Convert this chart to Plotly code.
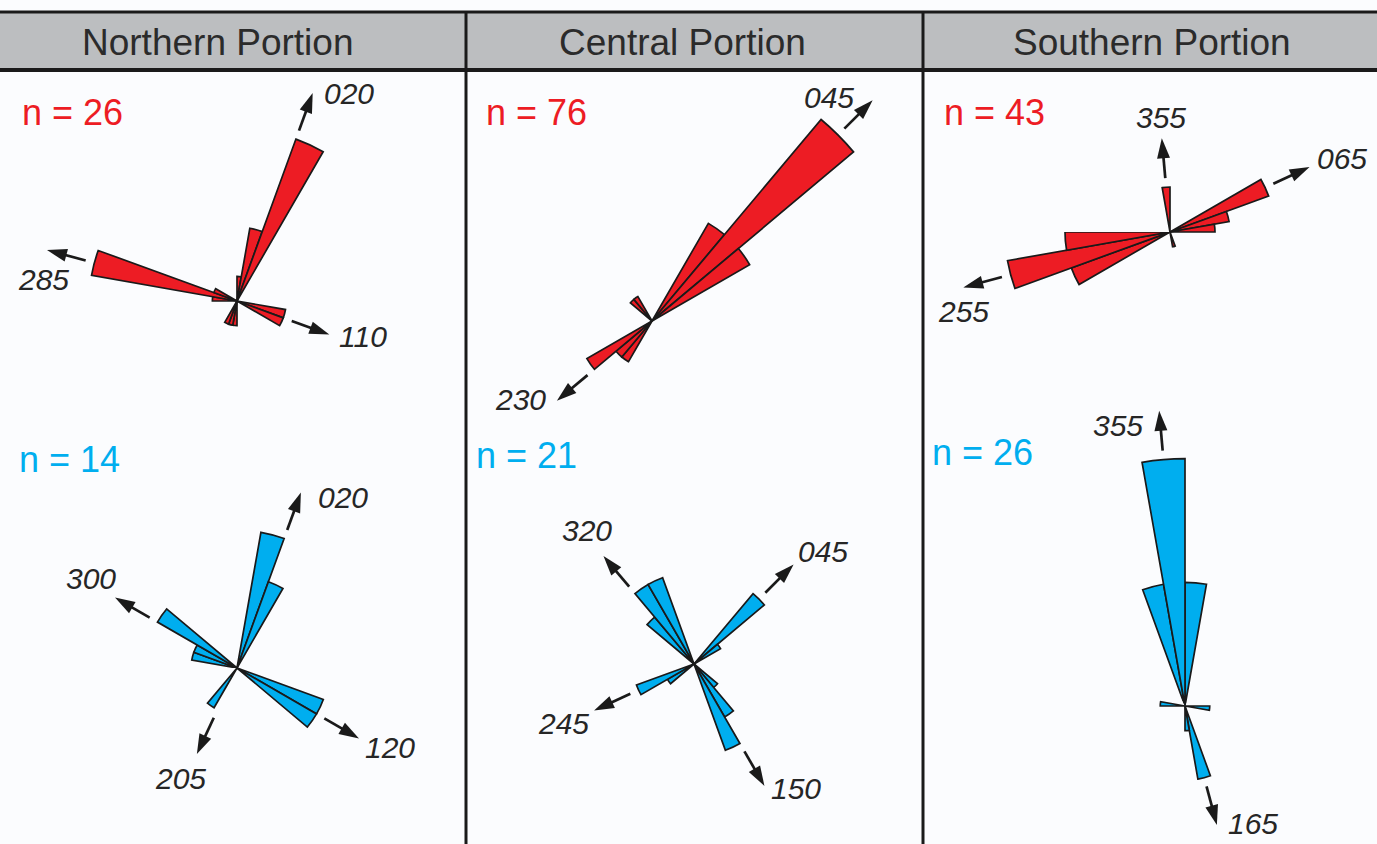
import math
import plotly.graph_objects as go

W, H = 1377, 844

# ---------------- data: counts per 10-degree azimuth bin (bin start) ----------------
north_red_bins = [0, 10, 20, 100, 110, 180, 190, 200, 270, 280, 290]
north_red_counts = [1, 3, 7, 2, 2, 1, 1, 1, 1, 6, 1]
north_red_dirs = [20, 285, 110]

central_red_bins = [30, 40, 50, 210, 220, 230, 310, 320]
central_red_counts = [12, 28, 12, 5, 5, 8, 3, 3]
central_red_dirs = [45, 230]

south_red_bins = [60, 70, 80, 160, 240, 250, 260, 350]
south_red_counts = [7, 4, 3, 1, 7, 11, 7, 3]
south_red_dirs = [355, 65, 255]

north_blue_bins = [10, 20, 110, 120, 210, 280, 290, 300]
north_blue_counts = [3, 2, 2, 2, 1, 1, 1, 2]
north_blue_dirs = [20, 300, 120, 205]

central_blue_bins = [40, 50, 130, 140, 150, 230, 240, 310, 320, 330]
central_blue_counts = [3, 1, 1, 2, 3, 1, 2, 2, 3, 3]
central_blue_dirs = [320, 45, 245, 150]

south_blue_bins = [0, 90, 160, 170, 270, 340, 350]
south_blue_counts = [5, 1, 3, 1, 1, 5, 10]
south_blue_dirs = [355, 165]

column_titles = ["Northern Portion", "Central Portion", "Southern Portion"]

# ---------------- styling ----------------
RED = "#ed1c24"
BLUE = "#00aeef"
INK = "#1a1a1a"
BIN_WIDTH = 10
GAP_PX = 9        # space between petal tip and arrow start
ARROW_PX = 40     # arrow length
HEAD_SIZE = 21
FONT = "Liberation Sans, Arial, sans-serif"

# each rose is drawn in one or more polar subplots sharing the same pole;
# "subs" lists (sector, radius px); items go to the first sub whose sector holds them
panels = [
    dict(bins=north_red_bins, counts=north_red_counts, dirs=north_red_dirs, color=RED,
         pole=(237, 301), scale=6.40, npos=(20, 113),
         subs=[(None, 228)],
         offsets=[(36, 0), (-4, 29), (34, 2)]),
    dict(bins=central_red_bins, counts=central_red_counts, dirs=central_red_dirs, color=RED,
         pole=(652, 321), scale=7.14, npos=(484, 113),
         subs=[(None, 318)],
         offsets=[(-44, -3), (-36, -1)]),
    dict(bins=south_red_bins, counts=south_red_counts, dirs=south_red_dirs, color=RED,
         pole=(1170, 232), scale=6.45, npos=(942, 113),
         subs=[([180, 270], 225), (None, 200)],
         offsets=[(-1, -21), (32, -8), (0, 24)]),
    dict(bins=north_blue_bins, counts=north_blue_counts, dirs=north_blue_dirs, color=BLUE,
         pole=(237, 668), scale=6.43, npos=(17, 460),
         subs=[([0, 180], 200), (None, 160)],
         offsets=[(42, 5), (-24, -19), (31, 9), (-16, 24)]),
    dict(bins=central_blue_bins, counts=central_blue_counts, dirs=central_blue_dirs, color=BLUE,
         pole=(694, 664), scale=6.43, npos=(474, 455),
         subs=[(None, 152)],
         offsets=[(-16, -26), (29, -13), (-31, 13), (32, 3)]),
    dict(bins=south_blue_bins, counts=south_blue_counts, dirs=south_blue_dirs, color=BLUE,
         pole=(1185, 706), scale=6.43, npos=(930, 452),
         subs=[([60, 120], 305), (None, 132)],
         offsets=[(-41, 15), (36, -1)]),
]


def ang_diff(a, b):
    return abs((a - b + 180) % 360 - 180)


def g_angle(bearing):
    return (90 - bearing) % 360


def in_sector(bearing, sector):
    if sector is None:
        return True
    return sector[0] <= g_angle(bearing) <= sector[1]


def sector_bbox(sector):
    a0, a1 = sector
    angles = [a0, a1] + [c for c in (0, 90, 180, 270, 360) if a0 <= c <= a1]
    xs = [0.0] + [math.cos(math.radians(a)) for a in angles]
    ys = [0.0] + [math.sin(math.radians(a)) for a in angles]
    return min(xs), min(ys), max(xs), max(ys)


fig = go.Figure()
polar_layouts = {}
annotations = []
counter = [0]


def new_polar(pole, R, rmax, sector=None):
    counter[0] += 1
    name = "polar" if counter[0] == 1 else f"polar{counter[0]}"
    cx, cy = pole
    if sector is None:
        bx0, by0, bx1, by1 = -1, -1, 1, 1
    else:
        bx0, by0, bx1, by1 = sector_bbox(sector)
    x0, x1 = cx + R * bx0, cx + R * bx1
    top, bottom = cy - R * by1, cy - R * by0
    cfg = dict(
        domain=dict(x=[max(0, x0 / W), min(1, x1 / W)],
                    y=[max(0, 1 - bottom / H), min(1, 1 - top / H)]),
        bgcolor="rgba(0,0,0,0)",
        radialaxis=dict(visible=False, range=[0, rmax], showgrid=False, showline=False,
                        showticklabels=False, ticks=""),
        angularaxis=dict(visible=False, rotation=90, direction="clockwise",
                         showgrid=False, showline=False, showticklabels=False, ticks=""),
    )
    if sector is not None:
        cfg["sector"] = sector
    polar_layouts[name] = cfg
    return name


def pick(bearing, subs):
    for i, (sector, _) in enumerate(subs):
        if in_sector(bearing, sector):
            return i
    return len(subs) - 1


for p in panels:
    n = sum(p["counts"])
    pct = [100.0 * c / n for c in p["counts"]]
    centers = [b + BIN_WIDTH / 2 for b in p["bins"]]
    scale = p["scale"]
    subs = p["subs"]
    names = [new_polar(p["pole"], R, R / scale, sector) for sector, R in subs]

    for i, sp in enumerate(names):
        th = [c for c in centers if pick(c, subs) == i]
        rr = [v for c, v in zip(centers, pct) if pick(c, subs) == i]
        if th:
            fig.add_trace(go.Barpolar(
                r=rr, theta=th, width=[BIN_WIDTH] * len(th), subplot=sp,
                marker=dict(color=p["color"], line=dict(color=INK, width=1.7)),
                hoverinfo="skip", showlegend=False,
            ))

        shaft_r, shaft_t, head_r, head_t = [], [], [], []
        for d in p["dirs"]:
            if pick(d, subs) != i:
                continue
            near = max(v for c, v in zip(centers, pct) if ang_diff(c, d) <= 15)
            start = near + GAP_PX / scale
            tip = start + ARROW_PX / scale
            shaft_r += [start, tip - 12 / scale, None]
            shaft_t += [d, d, None]
            head_r.append(tip)
            head_t.append(d)
        if head_r:
            fig.add_trace(go.Scatterpolar(
                r=shaft_r, theta=shaft_t, subplot=sp, mode="lines", cliponaxis=False,
                line=dict(color=INK, width=2.7), hoverinfo="skip", showlegend=False,
            ))
            fig.add_trace(go.Scatterpolar(
                r=head_r, theta=head_t, subplot=sp, mode="markers", cliponaxis=False,
                marker=dict(symbol="arrow", size=HEAD_SIZE, angle=head_t, angleref="up",
                            color=INK, line=dict(width=0)),
                hoverinfo="skip", showlegend=False,
            ))

    # direction labels next to arrow tips
    cx, cy = p["pole"]
    for d, (dx, dy) in zip(p["dirs"], p["offsets"]):
        near = max(v for c, v in zip(centers, pct) if ang_diff(c, d) <= 15)
        tip_px = near * scale + GAP_PX + ARROW_PX
        tx = cx + tip_px * math.sin(math.radians(d))
        ty = cy - tip_px * math.cos(math.radians(d))
        annotations.append(dict(
            x=tx / W, y=1 - ty / H, xref="paper", yref="paper", showarrow=False,
            text=f"{d:03d}", xshift=dx, yshift=-dy, xanchor="center", yanchor="middle",
            font=dict(family=FONT, size=30, color="#262626", style="italic"),
        ))

    # sample size
    nx, ny = p["npos"]
    annotations.append(dict(
        x=nx / W, y=1 - ny / H, xref="paper", yref="paper", showarrow=False,
        text=f"n = {n}", xanchor="left", yanchor="middle",
        font=dict(family=FONT, size=36, color=p["color"]),
    ))

# column headers
for title, xc in zip(column_titles, [218, 682, 1152]):
    annotations.append(dict(
        x=xc / W, y=1 - 42 / H, xref="paper", yref="paper", showarrow=False,
        text=title, xanchor="center", yanchor="middle",
        font=dict(family=FONT, size=37, color="#2b2b2b"),
    ))

shapes = [
    dict(type="rect", xref="paper", yref="paper", x0=0, x1=1, y0=1 - 69 / H, y1=1 - 13 / H,
         fillcolor="#bcbec0", line=dict(width=0), layer="below"),
    dict(type="line", xref="paper", yref="paper", x0=0, x1=1, y0=1 - 12 / H, y1=1 - 12 / H,
         line=dict(color=INK, width=3), layer="below"),
    dict(type="line", xref="paper", yref="paper", x0=0, x1=1, y0=1 - 70 / H, y1=1 - 70 / H,
         line=dict(color=INK, width=4), layer="below"),
]
for xv in (466, 923):
    shapes.append(dict(type="line", xref="paper", yref="paper", x0=xv / W, x1=xv / W,
                       y0=0, y1=1 - 12 / H, line=dict(color=INK, width=3), layer="below"))

fig.update_layout(
    width=W, height=H, margin=dict(l=0, r=0, t=0, b=0),
    paper_bgcolor="#fbfcfe", plot_bgcolor="#fbfcfe",
    showlegend=False, annotations=annotations, shapes=shapes,
    **polar_layouts,
)

fig.write_html("out.html")
